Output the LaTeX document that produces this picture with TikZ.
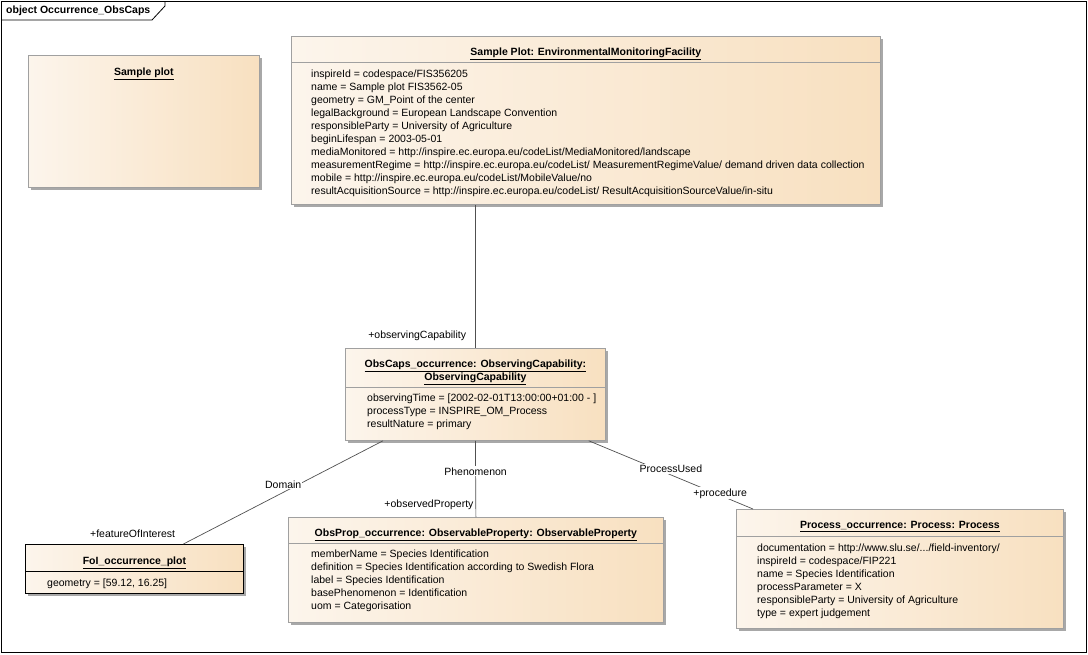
\documentclass[tikz,border=0pt]{standalone}
\usepackage{fontspec}
\setmainfont{Liberation Sans}
\usetikzlibrary{positioning,shadows}
\definecolor{objleft}{HTML}{FCF5EC}
\definecolor{objright}{HTML}{F8E0C0}
\definecolor{objline}{HTML}{A0A0A0}
\definecolor{objshadow}{HTML}{A8A8A8}
\definecolor{linkgray}{HTML}{505050}
\newcommand{\objtitle}[1]{\underline{\textbf{#1}}}

\begin{document}
\begin{tikzpicture}[x=1pt,y=-1pt,font=\fontsize{10.5}{13}\selectfont,
  obj/.style={draw=objline,line width=0.8pt,left color=objleft,right color=objright,
    drop shadow={shadow xshift=3pt,shadow yshift=-3pt,fill=objshadow,opacity=1},
    anchor=north west,inner sep=0pt},
  sep/.style={draw=objline,line width=0.8pt},
  ttl/.style={align=center,inner sep=0pt},
  attr/.style={anchor=north west,align=left,inner sep=0pt},
  lab/.style={fill=white,inner sep=1pt},
  role/.style={inner sep=1pt},
  link/.style={draw=linkgray,line width=0.7pt}]
  \useasboundingbox (0,0) rectangle (1088,654);
  % diagram frame
  \draw[line width=0.8pt] (1,1) rectangle (1086,652);
  \draw[line width=0.8pt] (1,20) -- (152,20) -- (165,6) -- (165,1);
  \node[anchor=west,inner sep=0pt,font=\bfseries\fontsize{10.5}{13}\selectfont] (frametitle) at (6,11) {object Occurrence\_ObsCaps};
  % objects
  \node[obj,minimum width=231pt,minimum height=132pt] (plot) at (28,55) {};
  \node[ttl] (plotT) at ([yshift=-18.5pt]plot.north) {\objtitle{Sample plot}};
  \node[obj,minimum width=589pt,minimum height=168pt] (facility) at (291,36) {};
  \node[ttl] (facilityT) at ([yshift=-17.5pt]facility.north) {\objtitle{Sample Plot: EnvironmentalMonitoringFacility}};
  \draw[sep] ([yshift=-26pt]facility.north west) -- ([yshift=-26pt]facility.north east);
  \node[attr] (facilityA) at (311,69.5) {inspireId = codespace/FIS356205\\
    name = Sample plot FIS3562-05\\
    geometry = GM\_Point of the center\\
    legalBackground = European Landscape Convention\\
    responsibleParty = University of Agriculture\\
    beginLifespan = 2003-05-01\\
    mediaMonitored = http://inspire.ec.europa.eu/codeList/MediaMonitored/landscape\\
    measurementRegime = http://inspire.ec.europa.eu/codeList/ MeasurementRegimeValue/ demand driven data collection\\
    mobile = http://inspire.ec.europa.eu/codeList/MobileValue/no\\
    resultAcquisitionSource = http://inspire.ec.europa.eu/codeList/ ResultAcquisitionSourceValue/in-situ};
  \node[obj,minimum width=260pt,minimum height=92pt] (caps) at (345,348) {};
  \node[ttl] (capsT) at ([yshift=-24pt]caps.north) {\objtitle{ObsCaps\_occurrence: ObservingCapability:}\\\objtitle{ObservingCapability}};
  \draw[sep] ([yshift=-39pt]caps.north west) -- ([yshift=-39pt]caps.north east);
  \node[attr] (capsA) at (367,394) {observingTime = [2002-02-01T13:00:00+01:00 - ]\\
    processType = INSPIRE\_OM\_Process\\
    resultNature = primary};
  \node[obj,draw=black,minimum width=218pt,minimum height=49pt] (foi) at (25,544) {};
  \node[ttl] (foiT) at ([yshift=-18.5pt]foi.north) {\objtitle{FoI\_occurrence\_plot}};
  \draw[sep,draw=black] ([yshift=-27pt]foi.north west) -- ([yshift=-27pt]foi.north east);
  \node[attr] (foiA) at (47,579) {geometry = [59.12, 16.25]};
  \node[obj,minimum width=375pt,minimum height=105pt] (prop) at (288,517) {};
  \node[ttl] (propT) at ([yshift=-17.5pt]prop.north) {\objtitle{ObsProp\_occurrence: ObservableProperty: ObservableProperty}};
  \draw[sep] ([yshift=-26pt]prop.north west) -- ([yshift=-26pt]prop.north east);
  \node[attr] (propA) at (311,550) {memberName = Species Identification\\
    definition = Species Identification according to Swedish Flora\\
    label = Species Identification\\
    basePhenomenon = Identification\\
    uom = Categorisation};
  \node[obj,minimum width=327pt,minimum height=119pt] (proc) at (736,509) {};
  \node[ttl] (procT) at ([yshift=-17.5pt]proc.north) {\objtitle{Process\_occurrence: Process: Process}};
  \draw[sep] ([yshift=-27pt]proc.north west) -- ([yshift=-27pt]proc.north east);
  \node[attr] (procA) at (757,544) {documentation = http://www.slu.se/.../field-inventory/\\
    inspireId = codespace/FIP221\\
    name = Species Identification\\
    processParameter = X\\
    responsibleParty = University of Agriculture\\
    type = expert judgement};
  % links
  \draw[link] (caps.north |- facility.south) -- (caps.north)
    node[role,at end,anchor=south east,xshift=-8pt,yshift=6pt] {+observingCapability};
  \draw[link] ([xshift=38pt]caps.south west) -- node[lab,pos=0.5,yshift=8pt] {Domain}
    node[role,pos=1,anchor=south east,xshift=-7pt,yshift=5pt] {+featureOfInterest} ([xshift=49pt]foi.north);
  \draw[link] (caps.south) -- node[lab,pos=0.4] {Phenomenon}
    node[role,pos=0.84,left=1pt] {+observedProperty} (prop.north);
  \draw[link] ([xshift=-17pt]caps.south east) -- node[lab,pos=0.5,yshift=6pt] {ProcessUsed}
    node[lab,pos=0.8,yshift=2pt] {+procedure} ([xshift=17pt]proc.north west);
\end{tikzpicture}
\end{document}
